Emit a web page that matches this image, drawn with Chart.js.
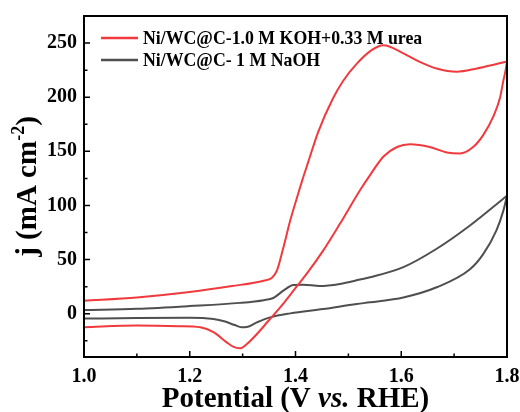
<!DOCTYPE html>
<html>
<head>
<meta charset="utf-8">
<script src="https://cdn.jsdelivr.net/npm/chart.js@4.4.1/dist/chart.umd.min.js"></script>
<style>
  html, body { margin: 0; padding: 0; background: #fff; }
</style>
</head>
<body>
<canvas id="cv" width="520" height="412"></canvas>
<script>
// ---- data (potential in V vs RHE, j in mA cm-2) ----
const seriesLabels = ["Ni/WC@C-1.0 M KOH+0.33 M urea", "Ni/WC@C- 1 M NaOH"];

// urea electrolyte, forward (anodic) scan
const ureaFwdV = [1.00, 1.10, 1.20, 1.28, 1.34, 1.355, 1.365, 1.377, 1.390, 1.402, 1.412, 1.424, 1.443, 1.471, 1.490, 1.516, 1.544, 1.566, 1.604, 1.635, 1.667, 1.705, 1.743, 1.775, 1.800];
const ureaFwdJ = [12, 15, 20, 25.5, 30.5, 33, 40, 61, 86, 106, 122, 140, 168, 199, 215, 231, 243.5, 248, 240.5, 232.7, 226.5, 223.5, 226.5, 230, 233];
// urea electrolyte, reverse scan
const ureaRevV = [1.800, 1.797, 1.793, 1.787, 1.774, 1.755, 1.736, 1.711, 1.686, 1.654, 1.617, 1.592, 1.566, 1.541, 1.522, 1.484, 1.452, 1.421, 1.402, 1.371, 1.349, 1.327, 1.308, 1.295, 1.282, 1.270, 1.245, 1.220, 1.180, 1.100, 1.000];
const ureaRevJ = [233, 224, 215, 200, 182, 165, 154, 148, 149, 154, 156.5, 154, 145, 128, 114, 83, 58, 36.7, 25, 5.8, -6.5, -18.8, -28, -32, -30.5, -26.5, -17, -12.5, -11.5, -11, -12.5];

// NaOH electrolyte, forward scan
const naohFwdV = [1.00, 1.10, 1.20, 1.295, 1.340, 1.358, 1.377, 1.396, 1.415, 1.446, 1.484, 1.522, 1.541, 1.604, 1.667, 1.730, 1.800];
const naohFwdJ = [3.4, 4.5, 7, 10, 12.5, 14.5, 21.3, 26.5, 26.8, 25.6, 27.5, 31.5, 33.6, 43, 60, 81.5, 109];
// NaOH electrolyte, reverse scan
const naohRevV = [1.800, 1.793, 1.780, 1.755, 1.730, 1.667, 1.604, 1.541, 1.516, 1.452, 1.390, 1.352, 1.327, 1.308, 1.298, 1.285, 1.265, 1.245, 1.200, 1.100, 1.000];
const naohRevJ = [109, 95, 77, 55, 41, 24.4, 15, 10.5, 9, 4.3, 0.3, -3.4, -8, -12.3, -12.5, -10.5, -7, -5, -3.8, -4, -4.5];

// axis ticks
const xMajor = [1.0, 1.2, 1.4, 1.6, 1.8];
const xMinor = [1.1, 1.3, 1.5, 1.7];
const yMajor = [0, 50, 100, 150, 200, 250];
const yMinor = [-25, 25, 75, 125, 175, 225];

const RED = "#f03a3d";
const GRAY = "#4f4f4f";
const SERIF = "'Liberation Serif', 'Times New Roman', serif";

function toPoints(vs, js) {
  return vs.map((v, i) => ({ x: v, y: js[i] }));
}

function lineSet(label, vs, js, color) {
  return {
    label: label,
    data: toPoints(vs, js),
    borderColor: color,
    backgroundColor: color,
    borderWidth: 2,
    showLine: true,
    pointRadius: 0,
    cubicInterpolationMode: "monotone",
    fill: false
  };
}

// frame, inward ticks, axis titles and the legend box
const decorations = {
  id: "decorations",
  afterDraw(chart) {
    const { ctx, chartArea: a, scales } = chart;
    const xs = scales.x, ys = scales.y;
    ctx.save();

    ctx.strokeStyle = "#000";
    ctx.lineWidth = 2;
    ctx.strokeRect(a.left, a.top, a.right - a.left, a.bottom - a.top);

    ctx.lineWidth = 1.5;
    ctx.beginPath();
    xMajor.forEach(v => {
      const px = xs.getPixelForValue(v);
      ctx.moveTo(px, a.bottom); ctx.lineTo(px, a.bottom - 6);
    });
    xMinor.forEach(v => {
      const px = xs.getPixelForValue(v);
      ctx.moveTo(px, a.bottom); ctx.lineTo(px, a.bottom - 3.5);
    });
    yMajor.forEach(v => {
      const py = ys.getPixelForValue(v);
      ctx.moveTo(a.left, py); ctx.lineTo(a.left + 6, py);
    });
    yMinor.forEach(v => {
      const py = ys.getPixelForValue(v);
      ctx.moveTo(a.left, py); ctx.lineTo(a.left + 3.5, py);
    });
    ctx.stroke();

    // x title with italic "vs."
    ctx.fillStyle = "#000";
    ctx.textBaseline = "alphabetic";
    const xParts = [
      { t: "Potential (V ", f: "bold 29px " + SERIF },
      { t: "vs.", f: "italic bold 29px " + SERIF },
      { t: " RHE)", f: "bold 29px " + SERIF }
    ];
    let total = 0;
    xParts.forEach(p => { ctx.font = p.f; p.w = ctx.measureText(p.t).width; total += p.w; });
    let cx = (a.left + a.right) / 2 - total / 2;
    xParts.forEach(p => { ctx.font = p.f; ctx.fillText(p.t, cx, 407); cx += p.w; });

    // y title with superscript
    ctx.save();
    ctx.translate(36, (a.top + a.bottom) / 2);
    ctx.rotate(-Math.PI / 2);
    const yParts = [
      { t: "j (mA cm", f: "bold 29px " + SERIF, dy: 0 },
      { t: "-2", f: "bold 18px " + SERIF, dy: -12 },
      { t: ")", f: "bold 29px " + SERIF, dy: 0 }
    ];
    total = 0;
    yParts.forEach(p => { ctx.font = p.f; p.w = ctx.measureText(p.t).width; total += p.w; });
    cx = -total / 2;
    yParts.forEach(p => { ctx.font = p.f; ctx.fillText(p.t, cx, p.dy); cx += p.w; });
    ctx.restore();

    // legend
    ctx.font = "bold 17.8px " + SERIF;
    ctx.textBaseline = "middle";
    const shown = chart.data.datasets.filter(d => d.label);
    shown.forEach((d, i) => {
      const ly = a.top + 22 + i * 22;
      ctx.strokeStyle = d.borderColor;
      ctx.lineWidth = 2.5;
      ctx.beginPath();
      ctx.moveTo(a.left + 17, ly); ctx.lineTo(a.left + 54, ly);
      ctx.stroke();
      ctx.fillStyle = "#000";
      ctx.fillText(d.label, a.left + 59, ly + 1);
    });

    ctx.restore();
  }
};

new Chart(document.getElementById("cv"), {
  type: "scatter",
  data: {
    datasets: [
      lineSet(seriesLabels[0], ureaFwdV, ureaFwdJ, RED),
      lineSet("", ureaRevV, ureaRevJ, RED),
      lineSet(seriesLabels[1], naohFwdV, naohFwdJ, GRAY),
      lineSet("", naohRevV, naohRevJ, GRAY)
    ]
  },
  options: {
    responsive: false,
    animation: false,
    layout: { padding: { top: 16, right: 13, left: 0, bottom: 0 } },
    plugins: {
      legend: { display: false },
      tooltip: { enabled: false }
    },
    scales: {
      x: {
        type: "linear",
        min: 1.0,
        max: 1.8,
        grid: { display: false, drawTicks: false },
        border: { display: false },
        afterBuildTicks: s => { s.ticks = xMajor.map(v => ({ value: v })); },
        afterFit: s => { s.height = 55; s.paddingLeft = 0; s.paddingRight = 0; },
        ticks: {
          padding: 8,
          color: "#000",
          font: { family: SERIF, size: 20, weight: "bold" },
          callback: v => v.toFixed(1)
        }
      },
      y: {
        type: "linear",
        min: -40,
        max: 275,
        grid: { display: false, drawTicks: false },
        border: { display: false },
        afterBuildTicks: s => { s.ticks = yMajor.map(v => ({ value: v })); },
        afterFit: s => { s.width = 84; s.paddingTop = 0; s.paddingBottom = 0; },
        ticks: {
          padding: 7,
          color: "#000",
          font: { family: SERIF, size: 20, weight: "bold" }
        }
      }
    }
  },
  plugins: [decorations]
});
</script>
</body>
</html>
